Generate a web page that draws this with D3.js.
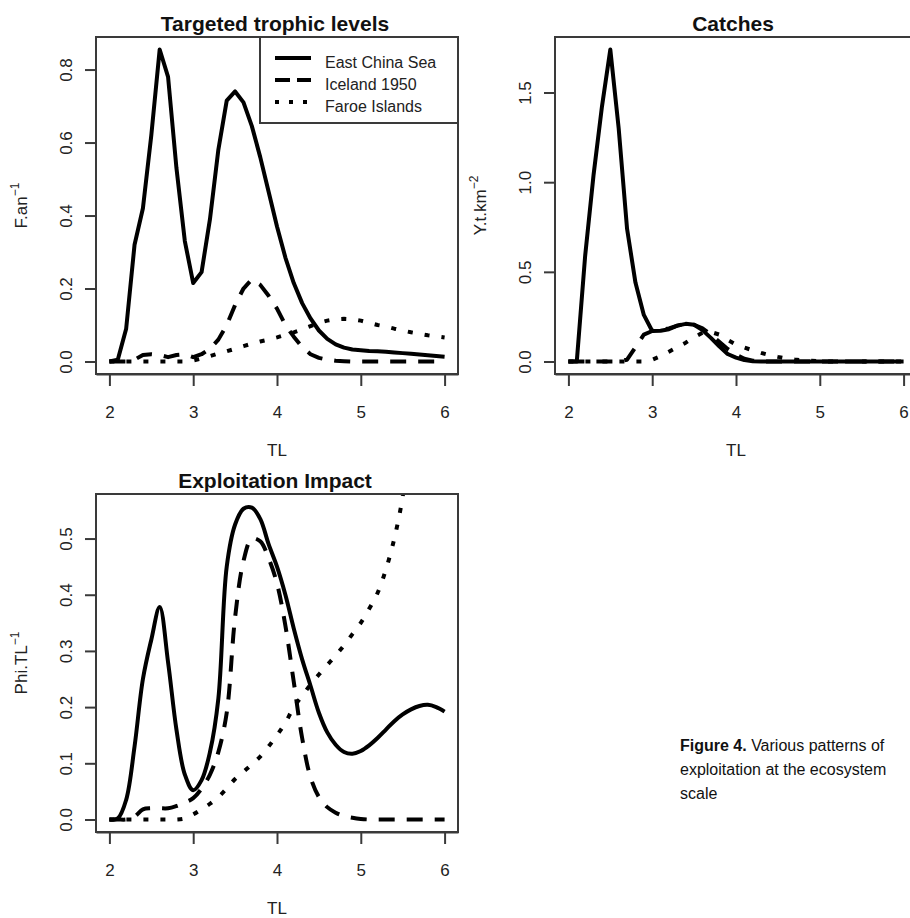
<!DOCTYPE html>
<html>
<head>
<meta charset="utf-8">
<script src="https://cdn.jsdelivr.net/npm/d3@7"></script>
<style>
  html, body { margin: 0; padding: 0; background: #fff; overflow: hidden; }
  svg { display: block; font-family: "Liberation Sans", Arial, sans-serif; }
</style>
</head>
<body>
<svg id="chart" width="910" height="918"></svg>
<script>
// trophic level grid (x values shared by every series)
const trophicLevels = [2.0, 2.1, 2.2, 2.3, 2.4, 2.5, 2.6, 2.7, 2.8, 2.9,
  3.0, 3.1, 3.2, 3.3, 3.4, 3.5, 3.6, 3.7, 3.8, 3.9,
  4.0, 4.1, 4.2, 4.3, 4.4, 4.5, 4.6, 4.7, 4.8, 4.9,
  5.0, 5.1, 5.2, 5.3, 5.4, 5.5, 5.6, 5.7, 5.8, 5.9, 6.0];
const xTicks = [2, 3, 4, 5, 6];
const seriesNames = ["East China Sea", "Iceland 1950", "Faroe Islands"];

// Targeted trophic levels (F.an^-1)
const targetedECS = [0, 0.005, 0.09, 0.32, 0.42, 0.62, 0.855, 0.78, 0.53, 0.33,
  0.215, 0.245, 0.39, 0.58, 0.715, 0.74, 0.71, 0.645, 0.56, 0.465,
  0.37, 0.285, 0.215, 0.16, 0.118, 0.085, 0.062, 0.047, 0.038, 0.033,
  0.031, 0.029, 0.028, 0.027, 0.025, 0.023, 0.021, 0.019, 0.017, 0.015, 0.013];
const targetedIceland = [0, 0, 0, 0.005, 0.018, 0.02, 0.018, 0.012, 0.018, 0.02,
  0.012, 0.02, 0.035, 0.06, 0.1, 0.155, 0.2, 0.225, 0.21, 0.18,
  0.145, 0.1, 0.068, 0.04, 0.02, 0.01, 0.005, 0.002, 0.001, 0,
  0, 0, 0, 0, 0, 0, 0, 0, 0, 0, 0];
const targetedFaroe = [0, 0, 0, 0, 0, 0, 0, 0, 0, 0,
  0.003, 0.008, 0.015, 0.022, 0.028, 0.035, 0.042, 0.049, 0.055, 0.06,
  0.066, 0.073, 0.08, 0.088, 0.097, 0.106, 0.112, 0.116, 0.117, 0.116,
  0.112, 0.106, 0.1, 0.096, 0.09, 0.085, 0.08, 0.076, 0.072, 0.069, 0.066];
const targetedTicks = [0, 0.2, 0.4, 0.6, 0.8];

// Catches (Y.t.km^-2)
const catchesECS = [0, 0, 0.59, 1.04, 1.42, 1.74, 1.3, 0.74, 0.44, 0.26,
  0.17, 0.172, 0.18, 0.2, 0.21, 0.205, 0.175, 0.132, 0.085, 0.042,
  0.022, 0.008, 0.002, 0, 0, 0, 0, 0, 0, 0,
  0, 0, 0, 0, 0, 0, 0, 0, 0, 0, 0];
const catchesIceland = [0, 0, 0, 0, 0, 0, 0, 0.01, 0.08, 0.15,
  0.17, 0.175, 0.185, 0.2, 0.21, 0.205, 0.185, 0.15, 0.11, 0.07,
  0.038, 0.015, 0.005, 0, 0, 0, 0, 0, 0, 0,
  0, 0, 0, 0, 0, 0, 0, 0, 0, 0, 0];
const catchesFaroe = [0, 0, 0, 0, 0, 0, 0, 0, 0, 0,
  0.01, 0.03, 0.055, 0.08, 0.105, 0.135, 0.16, 0.165, 0.15, 0.12,
  0.095, 0.078, 0.062, 0.048, 0.036, 0.026, 0.018, 0.011, 0.007, 0.004,
  0.002, 0, 0, 0, 0, 0, 0, 0, 0, 0, 0];
const catchesTicks = [0, 0.5, 1.0, 1.5];

// Exploitation impact (Phi.TL^-1)
const impactECS = [0, 0.002, 0.035, 0.13, 0.25, 0.32, 0.378, 0.28, 0.16, 0.08,
  0.052, 0.07, 0.12, 0.215, 0.45, 0.525, 0.553, 0.555, 0.535, 0.49,
  0.45, 0.4, 0.34, 0.285, 0.238, 0.19, 0.155, 0.133, 0.12, 0.117,
  0.122, 0.132, 0.145, 0.16, 0.175, 0.187, 0.196, 0.202, 0.204, 0.2, 0.192];
const impactIceland = [0, 0, 0, 0.005, 0.018, 0.02, 0.02, 0.02, 0.024, 0.03,
  0.038, 0.055, 0.08, 0.12, 0.19, 0.36, 0.46, 0.5, 0.495, 0.465,
  0.42, 0.345, 0.245, 0.145, 0.075, 0.04, 0.022, 0.012, 0.006, 0.003,
  0.001, 0, 0, 0, 0, 0, 0, 0, 0, 0, 0];
const impactFaroe = [0, 0, 0, 0, 0, 0, 0, 0, 0, 0.002,
  0.009, 0.018, 0.028, 0.04, 0.055, 0.072, 0.085, 0.098, 0.112, 0.13,
  0.15, 0.172, 0.2, 0.22, 0.24, 0.258, 0.275, 0.292, 0.31, 0.33,
  0.35, 0.375, 0.403, 0.445, 0.5, 0.575, 0.7, 0.85, 1.05, 1.3, 1.6];
const impactTicks = [0, 0.1, 0.2, 0.3, 0.4, 0.5];

const captionLines = ["exploitation at the ecosystem", "scale"];

const dashStyles = [null, "16 12", "5 12"];

const svg = d3.select("#chart");

const drawPanel = (cfg) => {
  const { left, top, right, bottom } = cfg.box;

  // R style axes: 4% padding on both sides
  const xPad = 0.04 * (6 - 2);
  const x = d3.scaleLinear().domain([2 - xPad, 6 + xPad]).range([left, right]);
  const yPad = 0.04 * cfg.ymax;
  const y = d3.scaleLinear().domain([-yPad, cfg.ymax + yPad]).range([bottom, top]);

  const g = svg.append("g");

  g.append("clipPath")
    .attr("id", cfg.id + "-clip")
    .append("rect")
    .attr("x", left).attr("y", top)
    .attr("width", right - left).attr("height", bottom - top);

  const curve = cfg.smooth ? d3.curveCatmullRom.alpha(0.5) : d3.curveLinear;
  const line = d3.line()
    .x((d, i) => x(trophicLevels[i]))
    .y((d) => y(d))
    .curve(curve);

  g.append("g")
    .attr("clip-path", `url(#${cfg.id}-clip)`)
    .selectAll("path")
    .data(cfg.series)
    .join("path")
    .attr("d", (d) => line(d))
    .attr("fill", "none")
    .attr("stroke", "#000")
    .attr("stroke-width", 4)
    .attr("stroke-linejoin", "round")
    .attr("stroke-dasharray", (d, i) => dashStyles[i]);

  // plot box
  g.append("rect")
    .attr("x", left).attr("y", top)
    .attr("width", right - left).attr("height", bottom - top)
    .attr("fill", "none")
    .attr("stroke", "#3a3a3a")
    .attr("stroke-width", 2);

  const xAxis = d3.axisBottom(x).tickValues(xTicks).tickSize(12).tickSizeOuter(0)
    .tickFormat(d3.format("d"));
  g.append("g")
    .attr("transform", `translate(0,${bottom})`)
    .call(xAxis)
    .call((a) => a.select(".domain").attr("stroke", "#3a3a3a").attr("stroke-width", 2))
    .call((a) => a.selectAll(".tick line").attr("stroke", "#3a3a3a").attr("stroke-width", 2))
    .call((a) =>
      a.selectAll(".tick text")
        .attr("y", 44).attr("dy", 0)
        .attr("fill", "#222")
        .style("font-size", "17px")
    );

  const yAxis = d3.axisLeft(y).tickValues(cfg.yTicks).tickSize(11).tickSizeOuter(0)
    .tickFormat(d3.format(".1f"));
  g.append("g")
    .attr("transform", `translate(${left},0)`)
    .call(yAxis)
    .call((a) => a.select(".domain").remove())
    .call((a) => a.selectAll(".tick line").attr("stroke", "#3a3a3a").attr("stroke-width", 2))
    .call((a) =>
      a.selectAll(".tick text")
        .attr("transform", "rotate(-90)")
        .attr("x", 0).attr("y", -24).attr("dy", 0)
        .attr("text-anchor", "middle")
        .attr("fill", "#222")
        .style("font-size", "17px")
    );

  // title
  g.append("text")
    .attr("x", cfg.titleX)
    .attr("y", top - 6)
    .attr("text-anchor", "middle")
    .attr("font-weight", "bold")
    .attr("fill", "#111")
    .style("font-size", "21px")
    .text(cfg.title);

  // x label
  g.append("text")
    .attr("x", (x(2) + x(6)) / 2)
    .attr("y", bottom + 82)
    .attr("text-anchor", "middle")
    .attr("fill", "#222")
    .style("font-size", "17px")
    .text("TL");

  // y label with superscript
  const ylab = g.append("text")
    .attr("transform", `translate(${left - 69},${(top + bottom) / 2}) rotate(-90)`)
    .attr("text-anchor", "middle")
    .attr("fill", "#222")
    .style("font-size", "17px");
  ylab.append("tspan").text(cfg.ylab);
  ylab.append("tspan").attr("dy", -8).style("font-size", "12px").text(cfg.ysup);

  return { x, y, g };
};

drawPanel({
  id: "targeted",
  box: { left: 96, top: 37, right: 458, bottom: 374 },
  ymax: 0.855,
  yTicks: targetedTicks,
  series: [targetedECS, targetedIceland, targetedFaroe],
  title: "Targeted trophic levels",
  titleX: 275,
  ylab: "F.an",
  ysup: "\u22121",
});

drawPanel({
  id: "catches",
  box: { left: 555, top: 37, right: 917, bottom: 374 },
  ymax: 1.74,
  yTicks: catchesTicks,
  series: [catchesECS, catchesIceland, catchesFaroe],
  title: "Catches",
  titleX: 733,
  ylab: "Y.t.km",
  ysup: "\u22122",
});

drawPanel({
  id: "impact",
  box: { left: 96, top: 494, right: 458, bottom: 832 },
  ymax: 0.557,
  yTicks: impactTicks,
  series: [impactECS, impactIceland, impactFaroe],
  title: "Exploitation Impact",
  titleX: 275,
  ylab: "Phi.TL",
  ysup: "\u22121",
  smooth: true,
});

// legend in the first panel
const legend = svg.append("g");
legend.append("rect")
  .attr("x", 260).attr("y", 37)
  .attr("width", 198).attr("height", 86)
  .attr("fill", "#fff")
  .attr("stroke", "#3a3a3a")
  .attr("stroke-width", 2);

const legendRows = legend.selectAll("g.row")
  .data(seriesNames)
  .join("g")
  .attr("class", "row")
  .attr("transform", (d, i) => `translate(0,${58 + i * 22})`);

legendRows.append("line")
  .attr("x1", 275).attr("x2", 311)
  .attr("stroke", "#000")
  .attr("stroke-width", 4)
  .attr("stroke-dasharray", (d, i) => (i === 0 ? null : i === 1 ? "15 7" : "4 10"));

legendRows.append("text")
  .attr("x", 325).attr("y", 10)
  .attr("fill", "#222")
  .style("font-size", "16px")
  .text((d) => d);

// figure caption, bottom right
const caption = svg.append("g")
  .attr("fill", "#111")
  .style("font-size", "16px");

const firstLine = caption.append("text").attr("x", 680).attr("y", 751);
firstLine.append("tspan").attr("font-weight", "bold").text("Figure 4.");
firstLine.append("tspan").text(" Various patterns of");

caption.selectAll("text.more")
  .data(captionLines)
  .join("text")
  .attr("class", "more")
  .attr("x", 680)
  .attr("y", (d, i) => 775 + i * 24)
  .text((d) => d);
</script>
</body>
</html>
